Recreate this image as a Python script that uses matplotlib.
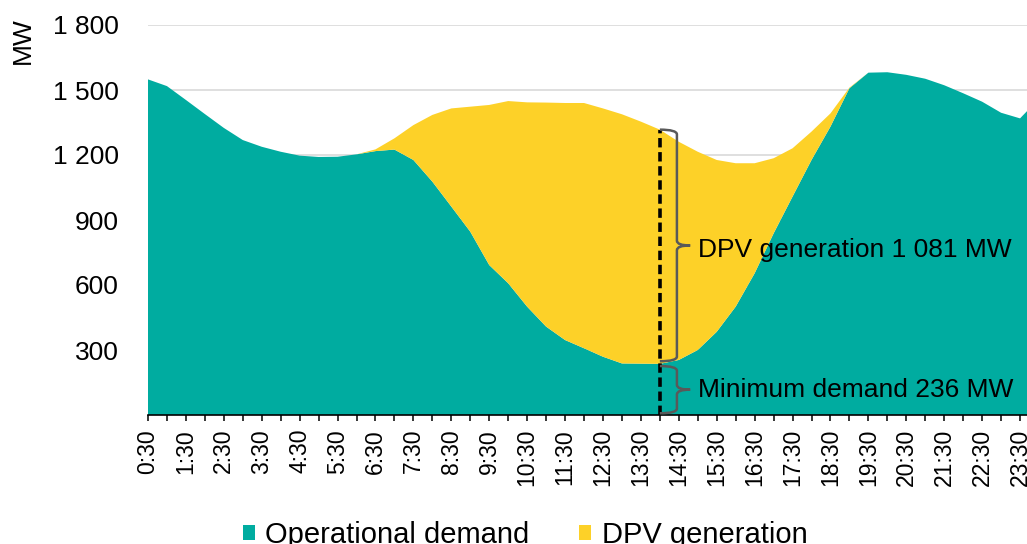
import numpy as np
import matplotlib
matplotlib.use("Agg")
import matplotlib.pyplot as plt
from matplotlib.path import Path
from matplotlib.patches import PathPatch, Patch

plt.rcParams['font.family'] = ['Liberation Sans', 'DejaVu Sans']

# half-hourly intervals, 0:30 .. 24:00
times = [f"{(30 + 30 * k) // 60}:{(30 + 30 * k) % 60:02d}" for k in range(48)]

operational_demand = [1549, 1518, 1454, 1389, 1325, 1269, 1238, 1215, 1197, 1191,
                      1192, 1203, 1218, 1225, 1177, 1077, 962, 846, 692, 608,
                      500, 408, 346, 308, 269, 238, 237, 236, 254, 300,
                      384, 500, 654, 838, 1008, 1177, 1331, 1508, 1580, 1582,
                      1570, 1552, 1522, 1485, 1446, 1395, 1369, 1460]
dpv_generation = [0, 0, 0, 0, 0, 0, 0, 0, 0, 0,
                  0, 0, 8, 52, 161, 308, 453, 577, 739, 841,
                  943, 1034, 1094, 1132, 1146, 1150, 1117, 1081, 1007, 915,
                  793, 662, 508, 347, 223, 131, 61, 3, 0, 0,
                  0, 0, 0, 0, 0, 0, 0, 0]

yticks = [300, 600, 900, 1200, 1500, 1800]
ytick_labels = ["300", "600", "900", "1 200", "1 500", "1 800"]

teal = "#00ACA0"
yellow = "#FDD128"
grey = "#595959"

W, H = 1027, 544
fig = plt.figure(figsize=(W / 100, H / 100), dpi=100)
ax = fig.add_axes([148 / W, 1 - 415 / H, 891 / W, 390 / H])

x = np.arange(len(times))
ax.stackplot(x, operational_demand, dpv_generation, colors=[teal, yellow],
             linewidth=0, zorder=2)

ax.set_xlim(0, len(times) - 1)
ax.set_ylim(0, 1800)
ax.set_yticks(yticks)
ax.set_yticklabels(ytick_labels)
ax.yaxis.grid(True, color="#D9D9D9", linewidth=1.2, zorder=0)
ax.set_axisbelow(True)

ax.set_xticks(x[::2])
ax.set_xticklabels(times[::2], rotation=90)
ax.set_xticks(x, minor=True)
ax.tick_params(axis='x', which='both', direction='out', length=4, width=1.1,
               color='black', labelsize=16.5, pad=6)
ax.tick_params(axis='y', length=0, labelsize=19, pad=21)

for s in ['left', 'right', 'top']:
    ax.spines[s].set_visible(False)
ax.spines['bottom'].set_color('black')
ax.spines['bottom'].set_linewidth(1.2)
ax.spines['bottom'].set_zorder(5)

fig.text(23 / W, 1 - 41 / H, "MW", rotation=90, ha='center', va='center', fontsize=19)

# minimum demand marker
imin = int(np.argmin(operational_demand))
dmin = operational_demand[imin]
dpv_at_min = dpv_generation[imin]
total = dmin + dpv_at_min
ax.plot([imin, imin], [0, total], color='black', linewidth=2.6,
        dashes=(2.6, 1.3), zorder=6)


def brace(x0, xv, xt, ybot, ytop, dy):
    ymid = (ybot + ytop) / 2
    verts = [(x0, ytop), (xv, ytop), (xv, ytop - dy), (xv, ymid + dy), (xv, ymid), (xt, ymid),
             (xt, ymid), (xv, ymid), (xv, ymid - dy), (xv, ybot + dy), (xv, ybot), (x0, ybot)]
    codes = [Path.MOVETO, Path.CURVE3, Path.CURVE3, Path.LINETO, Path.CURVE3, Path.CURVE3,
             Path.MOVETO, Path.CURVE3, Path.CURVE3, Path.LINETO, Path.CURVE3, Path.CURVE3]
    ax.add_patch(PathPatch(Path(verts, codes), fill=False, edgecolor=grey,
                           linewidth=1.8, zorder=7, clip_on=False))
    return ymid


def fmt(v):
    return f"{v:,}".replace(",", " ")


ym = brace(imin, imin + 0.9, imin + 1.6, dmin + 12, total, 22)
ax.text(imin + 2.0, ym - 20, f"DPV generation {fmt(dpv_at_min)} MW", fontsize=19,
        va='center', ha='left', zorder=8)
ym = brace(imin, imin + 0.9, imin + 1.6, 8, dmin - 10, 22)
ax.text(imin + 2.0, ym, f"Minimum demand {fmt(dmin)} MW", fontsize=19,
        va='center', ha='left', zorder=8)

handles = [Patch(facecolor=teal, edgecolor='none', label="Operational demand"),
           Patch(facecolor=yellow, edgecolor='none', label="DPV generation")]
fig.legend(handles=handles, loc='center', bbox_to_anchor=(525 / W, 1 - 535 / H),
           ncol=2, frameon=False, fontsize=21, handlelength=0.42, handleheight=0.42,
           handletextpad=0.35, columnspacing=1.7)

fig.savefig("out.png", dpi=100)
